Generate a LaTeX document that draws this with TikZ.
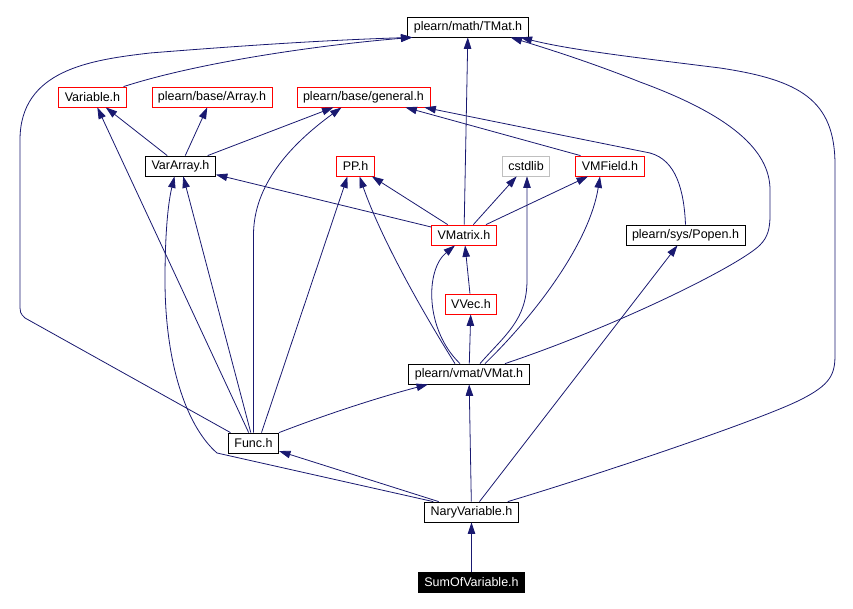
\documentclass[tikz,border=0pt]{standalone}
\usepackage{fontspec}
\setmainfont{Liberation Sans}
\usetikzlibrary{arrows.meta}

\definecolor{dxAzul}{HTML}{191970}
\definecolor{dxVermelho}{HTML}{FF0000}
\definecolor{dxCinza}{HTML}{BFBFBF}

\begin{document}
\begin{tikzpicture}[x=1pt, y=-1pt,
    every node/.style={font=\fontsize{12.5}{14}\selectfont},
    arq/.style={draw=black, line width=0.8pt, minimum height=20pt, inner xsep=6pt, inner ysep=0pt},
    arqinc/.style={arq, draw=dxVermelho},
    arqsis/.style={arq, draw=dxCinza},
    arqraiz/.style={arq, fill=black, text=white},
    dep/.style={dxAzul, line width=0.8pt, -{Triangle[length=11.5pt,width=7.5pt]}}]
        \useasboundingbox (0,0) rectangle (853,609);

        % Arquivos do grafo.
        \node[arq] (tmat) at (468,27) {plearn/math/TMat.h};
        \node[arqinc] (variable) at (92.5,97) {Variable.h};
        \node[arqinc] (array) at (212,97) {plearn/base/Array.h};
        \node[arqinc] (general) at (363.5,97) {plearn/base/general.h};
        \node[arq] (vararray) at (180.5,166) {VarArray.h};
        \node[arqinc] (pp) at (355.5,166) {PP.h};
        \node[arqsis] (cstdlib) at (526,166) {cstdlib};
        \node[arqinc] (vmfield) at (610,166) {VMField.h};
        \node[arqinc] (vmatrix) at (464,235) {VMatrix.h};
        \node[arq] (popen) at (685.5,235) {plearn/sys/Popen.h};
        \node[arqinc] (vvec) at (471,304) {VVec.h};
        \node[arq] (vmat) at (469,374) {plearn/vmat/VMat.h};
        \node[arq] (func) at (253.5,443) {Func.h};
        \node[arq] (nary) at (471.5,512) {NaryVariable.h};
        \node[arqraiz] (sum) at (471.5,582.5) {SumOfVariable.h};

        % Dependencias de SumOfVariable.h e NaryVariable.h.
        \draw[dep] (sum) -- (nary);
        \draw[dep] (nary) -- (vmat);
        \draw[dep] (nary) -- (func);
        \draw[dep] (nary) -- (popen);
        \draw[dep] ([xshift=9pt]nary.north west) -- (217,453)
            .. controls (185,425) and (165,360) .. (165,280)
            .. controls (165,220) and (170,195) .. ([xshift=-6pt]vararray.south);
        \draw[dep] ([xshift=-11pt]nary.north east)
            .. controls (600,474) and (760,420) .. (800,400)
            .. controls (830,385) and (835,375) .. (835,355) -- (835,165)
            .. controls (835,100) and (800,80) .. (720,68)
            .. controls (640,58) and (570,50) .. ([xshift=-8pt]tmat.south east);

        % Dependencias de Func.h.
        \draw[dep] (func) -- (variable);
        \draw[dep] (func) -- (vararray);
        \draw[dep] ([xshift=8pt]func.north) -- ([xshift=-8pt]pp.south);
        \draw[dep] (func.north) -- (253.5,235)
            .. controls (253.5,185) and (290,145) .. ([xshift=-22pt]general.south);
        \draw[dep] (func.north east)
            .. controls (330,413) and (380,397) .. ([xshift=-41pt]vmat.south);
        \draw[dep] ([xshift=-23pt]func.north) -- (25,318)
            .. controls (20,313) .. (20,302) -- (20,140)
            .. controls (20,70) and (90,60) .. (150,53)
            .. controls (250,45) and (330,40) .. ([xshift=5pt]tmat.south west);

        % Dependencias de VMat.h.
        \draw[dep] (vmat) -- (vvec);
        \draw[dep] ([xshift=-9pt]vmat.north)
            .. controls (425,330) and (425,270) .. ([xshift=-9pt]vmatrix.south);
        \draw[dep] ([xshift=-14pt]vmat.north)
            .. controls (440,340) and (385,250) .. ([xshift=4pt]pp.south);
        \draw[dep] ([xshift=11pt]vmat.north)
            .. controls (505,335) and (527,320) .. (527,280) -- ([xshift=1pt]cstdlib.south);
        \draw[dep] ([xshift=16pt]vmat.north)
            .. controls (540,310) and (590,240) .. ([xshift=-10pt]vmfield.south);
        \draw[dep] ([xshift=36pt]vmat.north)
            .. controls (620,325) and (740,265) .. (760,245)
            .. controls (768,237) and (770,228) .. (770,215) -- (770,190)
            .. controls (770,150) and (730,115) .. (640,82)
            .. controls (590,62) and (545,48) .. ([xshift=-18pt]tmat.south east);

        % Dependencias de VVec.h e VMatrix.h.
        \draw[dep] (vvec) -- (vmatrix);
        \draw[dep] (vmatrix) -- (tmat);
        \draw[dep] (vmatrix) -- (vararray);
        \draw[dep] (vmatrix) -- (pp);
        \draw[dep] (vmatrix) -- (cstdlib);
        \draw[dep] (vmatrix) -- (vmfield);

        % Dependencias de VarArray.h, Variable.h, VMField.h e Popen.h.
        \draw[dep] (vararray) -- (variable);
        \draw[dep] (vararray) -- (array);
        \draw[dep] (vararray) -- ([xshift=-30pt]general.south);
        \draw[dep] ([xshift=-3pt]variable.north east)
            .. controls (200,62) and (320,45) .. ([xshift=5pt]tmat.south west);
        \draw[dep] ([xshift=5pt]vmfield.north west) -- ([xshift=-25pt]general.south east);
        \draw[dep] (popen.north)
            .. controls (684,190) and (676,160) .. (650,153) -- ([xshift=-6pt]general.south east);
    \end{tikzpicture}
\end{document}
